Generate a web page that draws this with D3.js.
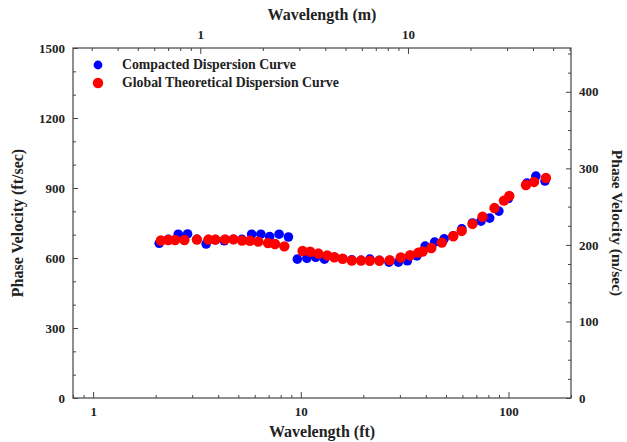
<!DOCTYPE html>
<html><head><meta charset="utf-8">
<script src="https://cdn.jsdelivr.net/npm/d3@7"></script>
<style>
body{margin:0;background:#fff;}
svg text{font-family:'Liberation Serif',serif !important;font-weight:bold;fill:#222;}
</style></head>
<body>
<svg id="c" width="627" height="442"></svg>
<script>
// Compacted Dispersion Curve: wavelength (ft), phase velocity (ft/sec)
const compactedWavelength = [2.08,2.30,2.57,2.85,3.16,3.50,3.88,4.28,4.74,5.21,5.80,6.42,7.08,7.86,8.72,9.62,10.7,11.8,13.0,14.5,15.9,17.6,19.5,21.5,23.9,26.6,29.5,32.6,36.2,39.7,44.1,49.0,54.2,59.6,67.1,73.7,81.2,89.9,99.9,122.7,135.5,149.9];
const compactedVelocity   = [663,680,702,703,680,660,678,674,680,680,702,702,692,702,690,595,599,603,595,603,597,592,590,595,590,582,582,588,609,651,668,682,695,725,750,758,771,801,855,921,951,930];
// Global Theoretical Dispersion Curve
const theoreticalWavelength = [2.12,2.30,2.48,2.75,3.16,3.59,3.88,4.32,4.74,5.21,5.69,6.24,6.95,7.51,8.33,10.2,11.1,12.15,13.4,14.5,15.9,17.6,19.5,21.5,23.9,26.8,30.3,33.6,36.8,38.6,42.5,47.8,54.2,59.5,67.1,75.0,85.6,95.1,100.9,121.4,132.7,151.5];
const theoreticalVelocity   = [675,677,677,677,679,679,679,680,680,675,674,670,664,660,650,630,627,619,611,603,597,589,589,588,588,591,602,612,623,628,643,666,693,716,746,777,814,846,866,913,926,943];

const leftTicks = [0,300,600,900,1200,1500];
const rightTicks = [0,100,200,300,400];
const bottomTicks = [1,10,100];
const topTicks = [1,10];
const legendLabels = ["Compacted Dispersion Curve","Global Theoretical Dispersion Curve"];
const colors = ["#0000ff","#ff0000"];

const L=73, R=571, T=48, B=398;
const svg = d3.select("#c");
const FONT = "'Liberation Serif', serif";

const x = d3.scaleLog().domain([0.8,200]).range([L,R]);
const xm = d3.scaleLog().domain([0.8*0.3048,200*0.3048]).range([L,R]);
const y = d3.scaleLinear().domain([0,1500]).range([B,T]);
const ym = d3.scaleLinear().domain([0,1500*0.3048]).range([B,T]);

const axisColor="#444";
svg.append("rect").attr("x",L).attr("y",T).attr("width",R-L).attr("height",B-T)
  .attr("fill","none").attr("stroke",axisColor).attr("stroke-width",1.2);

function logMinor(scale){
  const [a,b]=scale.domain(); const out=[];
  for(let e=Math.floor(Math.log10(a));e<=Math.ceil(Math.log10(b));e++){
    for(let k=2;k<=9;k++){const v=k*Math.pow(10,e); if(v>=a&&v<=b) out.push(v);}
  }
  return out;
}
const fmt = d3.format("d");
const g = svg.append("g");
const noDom = s=>s.select(".domain").remove();
g.append("g").attr("transform",`translate(0,${B})`).call(d3.axisBottom(x).tickValues(bottomTicks).tickFormat(fmt).tickSize(-6).tickPadding(9)).call(noDom);
g.append("g").attr("transform",`translate(0,${B})`).call(d3.axisBottom(x).tickValues(logMinor(x)).tickFormat("").tickSize(-3)).call(noDom);
g.append("g").attr("transform",`translate(0,${T})`).call(d3.axisTop(xm).tickValues(topTicks).tickFormat(fmt).tickSize(-6).tickPadding(9)).call(noDom);
g.append("g").attr("transform",`translate(0,${T})`).call(d3.axisTop(xm).tickValues(logMinor(xm)).tickFormat("").tickSize(-3)).call(noDom);
g.append("g").attr("transform",`translate(${L},0)`).call(d3.axisLeft(y).tickValues(leftTicks).tickFormat(fmt).tickSize(-5).tickPadding(8)).call(noDom);
g.append("g").attr("transform",`translate(${L},0)`).call(d3.axisLeft(y).tickValues(d3.range(0,1501,100).filter(v=>v%300)).tickFormat("").tickSize(-3)).call(noDom);
g.append("g").attr("transform",`translate(${R},0)`).call(d3.axisRight(ym).tickValues(rightTicks).tickFormat(fmt).tickSize(-5).tickPadding(8)).call(noDom);
g.append("g").attr("transform",`translate(${R},0)`).call(d3.axisRight(ym).tickValues(d3.range(0,457,25).filter(v=>v%100)).tickFormat("").tickSize(-3)).call(noDom);

g.selectAll("g").attr("font-family",FONT);
g.selectAll(".tick line").attr("stroke",axisColor).attr("stroke-width",1);
g.selectAll(".tick text").attr("font-size",13).attr("font-family",FONT).attr("font-weight","bold").attr("fill","#222");

function title(tr, t, fs){
  svg.append("text").attr("transform",tr).attr("text-anchor","middle")
    .attr("font-family",FONT).attr("font-weight","bold").attr("font-size",fs||16).text(t);
}
title(`translate(${(L+R)/2},20)`,"Wavelength (m)");
title(`translate(${(L+R)/2},437)`,"Wavelength (ft)");
title(`translate(23,${(T+B)/2}) rotate(-90)`,"Phase Velocity (ft/sec)");
title(`translate(612,${(T+B)/2}) rotate(90)`,"Phase Velocity (m/sec)",15.5);

const comp = compactedWavelength.map((w,i)=>({w,v:compactedVelocity[i]}));
const theo = theoreticalWavelength.map((w,i)=>({w,v:theoreticalVelocity[i]}));
svg.append("g").selectAll("circle").data(comp).join("circle")
  .attr("cx",d=>x(d.w)).attr("cy",d=>y(d.v)).attr("r",4.8).attr("fill",colors[0]);
svg.append("g").selectAll("circle").data(theo).join("circle")
  .attr("cx",d=>x(d.w)).attr("cy",d=>y(d.v)).attr("r",5.2).attr("fill",colors[1]);

const lg = svg.append("g");
legendLabels.forEach((t,i)=>{
  lg.append("circle").attr("cx",98).attr("cy",65+i*18).attr("r",i?5.2:4.4).attr("fill",colors[i]);
  lg.append("text").attr("x",122).attr("y",69+i*18).attr("font-family",FONT).attr("font-weight","bold").attr("font-size",13.8).text(t);
});
</script>
</body></html>
